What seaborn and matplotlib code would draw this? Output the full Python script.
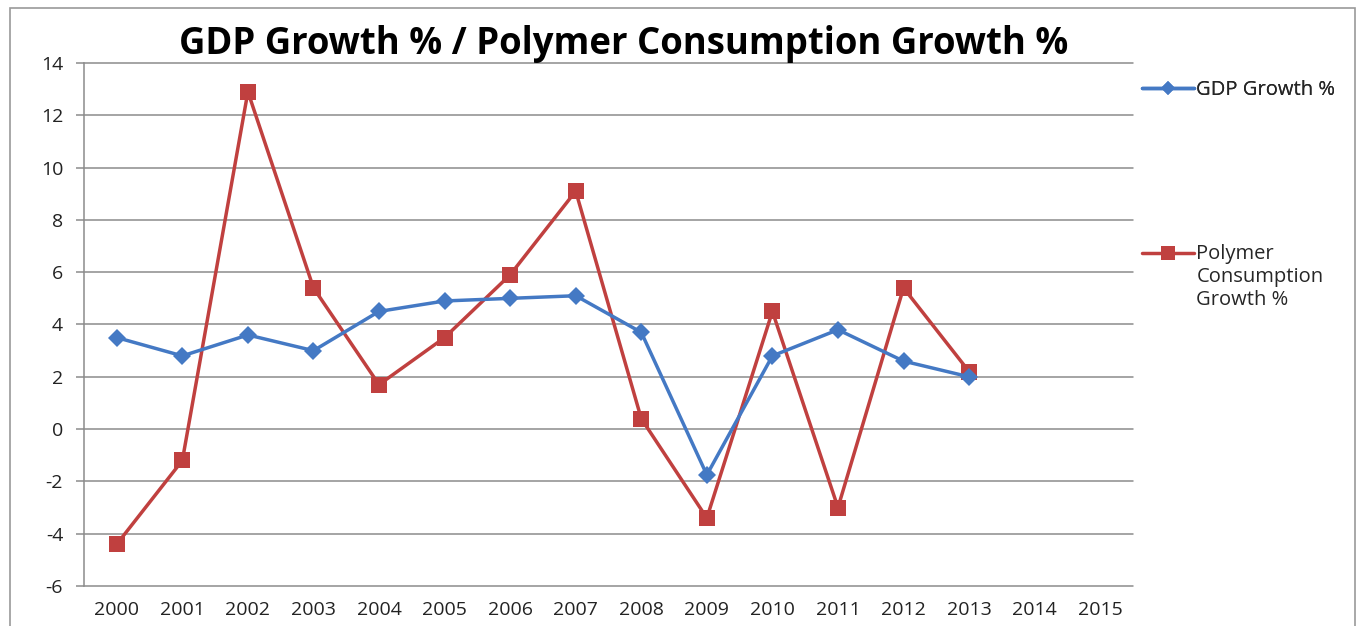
import numpy as np
import pandas as pd
import matplotlib.pyplot as plt
import seaborn as sns
from matplotlib.legend_handler import HandlerLine2D
from matplotlib.lines import Line2D
from matplotlib.patches import Rectangle

# ============================================================
# DATA
# ============================================================
YEARS       = [2000, 2001, 2002, 2003, 2004, 2005, 2006, 2007,
               2008, 2009, 2010, 2011, 2012, 2013]
TICK_YEARS  = list(range(2000, 2016))
GDP_GROWTH  = [3.5, 2.8, 3.6, 3.0, 4.5, 4.9, 5.0, 5.1,
               3.7, -1.75, 2.8, 3.8, 2.6, 2.0]
POLY_GROWTH = [-4.4, -1.2, 12.9, 5.4, 1.7, 3.5, 5.9, 9.1,
               0.4, -3.4, 4.5, -3.0, 5.4, 2.2]
Y_TICKS     = list(range(-6, 15, 2))

GDP_LABEL  = "GDP Growth %"
POLY_LABEL = "Polymer\nConsumption\nGrowth %"
TITLE      = "GDP Growth % / Polymer Consumption Growth %"

BLUE = "#4479C4"
RED  = "#C0403F"
GRID = "#8C8C8C"

df = pd.DataFrame({"year": YEARS, "gdp": GDP_GROWTH, "poly": POLY_GROWTH})

# ============================================================
# PLOT
# ============================================================
sns.set_theme(style="white")
plt.rcParams["font.family"] = ["Open Sans", "DejaVu Sans"]
plt.rcParams["axes.unicode_minus"] = False

fig = plt.figure(figsize=(13.61, 6.26), dpi=100)
ax = fig.add_axes([84 / 1361, 1 - 586 / 626, (1133 - 84) / 1361, (586 - 63) / 626])

sns.lineplot(data=df, x="year", y="poly", ax=ax, color=RED, lw=2.5,
             marker="s", markersize=12, markeredgewidth=0, zorder=3)
sns.lineplot(data=df, x="year", y="gdp", ax=ax, color=BLUE, lw=2.5,
             marker="D", markersize=9, markeredgewidth=0, zorder=4)

ax.set_xlim(TICK_YEARS[0] - 0.5, TICK_YEARS[-1] + 0.5)
ax.set_ylim(Y_TICKS[0], Y_TICKS[-1])
ax.set_xticks(TICK_YEARS)
ax.set_xticklabels([str(y) for y in TICK_YEARS])
ax.set_yticks(Y_TICKS)
ax.set_xlabel("")
ax.set_ylabel("")

for y in Y_TICKS:
    ax.axhline(y, color=GRID, lw=1.1, zorder=1, clip_on=False)

for s in ["top", "right", "bottom"]:
    ax.spines[s].set_visible(False)
ax.spines["left"].set_color(GRID)
ax.spines["left"].set_linewidth(1.1)

ax.tick_params(axis="y", left=True, length=6, width=1.1, color=GRID,
               labelsize=14, labelcolor="#222222", pad=9)
ax.tick_params(axis="x", bottom=False, labelsize=14, labelcolor="#222222", pad=5)

fig.text(624 / 1361, 1 - 44 / 626, TITLE, ha="center", va="center",
         fontsize=26.3, fontweight="bold", color="black")

# chart area border (Excel style)
fig.add_artist(Rectangle((10 / 1361, -0.05), (1355 - 10) / 1361, 1.05 - 8 / 626,
                         transform=fig.transFigure, fill=False,
                         edgecolor="#9A9A9A", lw=1.2))


class FirstLineHandler(HandlerLine2D):
    # put the legend key next to the first line of a multi-line label
    def create_artists(self, legend, orig_handle, xdescent, ydescent,
                       width, height, fontsize, trans):
        artists = super().create_artists(legend, orig_handle, xdescent, ydescent,
                                         width, height, fontsize, trans)
        for a in artists:
            a.set_ydata(np.asarray(a.get_ydata()) + fontsize * 1.2)
        return artists


h_gdp = Line2D([], [], color=BLUE, lw=2.5, marker="D", markersize=7.5, markeredgewidth=0)
h_poly = Line2D([], [], color=RED, lw=2.5, marker="s", markersize=9.5, markeredgewidth=0)

leg1 = fig.legend([h_gdp], [GDP_LABEL], loc="center left",
                  bbox_to_anchor=(1126 / 1361, 1 - 90 / 626), frameon=False,
                  fontsize=14.5, handlelength=2.6, handletextpad=0.1, borderpad=0.3)
fig.add_artist(leg1)
leg2 = fig.legend([h_poly], [POLY_LABEL], loc="upper left",
                  bbox_to_anchor=(1126 / 1361, 1 - 228 / 626), frameon=False,
                  fontsize=14.5, handlelength=2.6, handletextpad=0.1, borderpad=0.3,
                  handler_map={h_poly: FirstLineHandler()})

fig.savefig("out.png", dpi=100)
